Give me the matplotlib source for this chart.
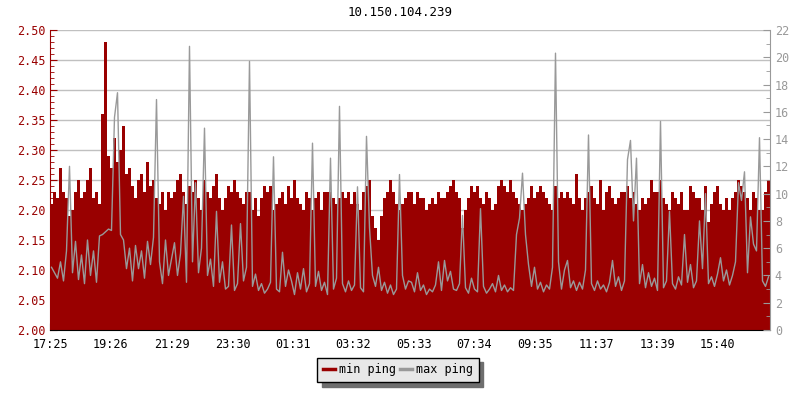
import numpy as np
import matplotlib.pyplot as plt
from matplotlib.ticker import MultipleLocator, FormatStrFormatter
from matplotlib.lines import Line2D

# one sample every 6 minutes, starting 17:25
step_min = 6

min_ping = [
    # 17:25 - 21:25
    2.21, 2.23, 2.22, 2.27, 2.23, 2.22, 2.19, 2.20, 2.23, 2.25,
    2.22, 2.23, 2.25, 2.27, 2.22, 2.23, 2.21, 2.36, 2.48, 2.29,
    2.27, 2.32, 2.28, 2.30, 2.34, 2.26, 2.27, 2.24, 2.22, 2.25,
    2.26, 2.23, 2.28, 2.24, 2.25, 2.22, 2.21, 2.23, 2.20, 2.23,
    # 21:25 - 01:25
    2.22, 2.23, 2.25, 2.26, 2.23, 2.21, 2.24, 2.23, 2.25, 2.22,
    2.20, 2.25, 2.23, 2.22, 2.24, 2.26, 2.22, 2.20, 2.22, 2.24,
    2.23, 2.25, 2.23, 2.22, 2.21, 2.23, 2.23, 2.20, 2.22, 2.19,
    2.22, 2.24, 2.23, 2.24, 2.20, 2.21, 2.22, 2.23, 2.21, 2.24,
    # 01:25 - 05:25
    2.22, 2.25, 2.22, 2.21, 2.20, 2.23, 2.22, 2.20, 2.22, 2.23,
    2.20, 2.23, 2.23, 2.23, 2.22, 2.21, 2.22, 2.23, 2.22, 2.23,
    2.21, 2.23, 2.21, 2.20, 2.23, 2.24, 2.25, 2.19, 2.17, 2.15,
    2.19, 2.22, 2.23, 2.25, 2.23, 2.21, 2.20, 2.21, 2.22, 2.23,
    # 05:25 - 09:25
    2.23, 2.21, 2.23, 2.22, 2.22, 2.20, 2.21, 2.22, 2.21, 2.23,
    2.22, 2.22, 2.23, 2.24, 2.25, 2.23, 2.22, 2.17, 2.20, 2.22,
    2.24, 2.23, 2.24, 2.22, 2.21, 2.23, 2.22, 2.20, 2.21, 2.24,
    2.25, 2.24, 2.23, 2.25, 2.23, 2.22, 2.21, 2.20, 2.21, 2.22,
    # 09:25 - 13:25
    2.24, 2.22, 2.23, 2.24, 2.23, 2.22, 2.21, 2.20, 2.24, 2.22,
    2.23, 2.22, 2.23, 2.22, 2.21, 2.26, 2.22, 2.20, 2.22, 2.23,
    2.24, 2.22, 2.21, 2.25, 2.20, 2.23, 2.24, 2.22, 2.21, 2.22,
    2.23, 2.23, 2.24, 2.22, 2.23, 2.21, 2.20, 2.22, 2.21, 2.22,
    # 13:25 - 17:25
    2.25, 2.23, 2.23, 2.25, 2.22, 2.21, 2.20, 2.23, 2.22, 2.21,
    2.23, 2.20, 2.20, 2.24, 2.23, 2.22, 2.22, 2.20, 2.24, 2.18,
    2.21, 2.23, 2.24, 2.21, 2.20, 2.22, 2.20, 2.22, 2.23, 2.25,
    2.24, 2.23, 2.22, 2.20, 2.23, 2.22, 2.20, 2.20, 2.23, 2.25,
]

max_ping = [
    # 17:25 - 21:25
    4.6, 4.2, 3.8, 5.0, 3.6, 5.8, 12.0, 4.2, 6.5, 3.7,
    5.5, 3.4, 6.6, 4.0, 5.8, 3.5, 6.9, 7.0, 7.2, 7.4,
    7.3, 15.6, 17.4, 7.0, 6.6, 4.5, 6.0, 3.6, 6.2, 4.5,
    5.8, 3.8, 6.5, 4.8, 6.8, 16.9, 5.0, 3.4, 6.6, 4.0,
    # 21:25 - 01:25
    5.2, 6.4, 4.0, 5.6, 9.8, 3.5, 20.8, 5.0, 10.8, 4.2,
    6.0, 14.8, 4.0, 5.2, 3.2, 8.7, 3.5, 5.0, 3.0, 3.2,
    7.7, 2.9, 3.4, 7.8, 3.6, 4.6, 19.7, 3.2, 4.1, 2.9,
    3.4, 2.7, 3.0, 3.5, 12.7, 3.0, 2.8, 5.7, 3.2, 4.4,
    # 01:25 - 05:25
    3.6, 2.6, 4.2, 3.0, 4.5, 2.8, 3.4, 13.7, 3.2, 4.3,
    2.9, 3.5, 2.6, 12.6, 3.0, 3.8, 16.4, 3.4, 2.8, 3.6,
    2.9, 3.3, 10.5, 3.1, 2.8, 14.2, 7.5, 4.0, 3.2, 4.6,
    2.9, 3.5, 2.7, 3.3, 2.6, 3.0, 11.4, 4.0, 3.0, 3.6,
    # 05:25 - 09:25
    3.5, 2.8, 4.2, 2.9, 3.3, 2.6, 3.0, 2.8, 3.3, 5.0,
    2.9, 5.1, 3.6, 4.3, 3.0, 2.9, 3.4, 8.4, 3.1, 2.7,
    3.8, 3.0, 2.8, 8.9, 3.2, 2.7, 3.0, 3.4, 2.8, 4.0,
    2.9, 3.3, 2.8, 3.1, 2.9, 7.0, 8.2, 11.5, 7.0, 4.8,
    # 09:25 - 13:25
    3.2, 4.6, 3.0, 3.5, 2.8, 3.3, 3.0, 4.6, 20.3, 5.0,
    3.0, 4.4, 5.1, 3.1, 3.6, 2.9, 3.5, 3.0, 4.4, 14.3,
    3.4, 2.9, 3.6, 3.0, 3.3, 2.8, 3.5, 5.1, 3.2, 3.9,
    2.9, 3.6, 12.5, 13.9, 8.0, 12.6, 3.4, 4.8, 3.1, 4.2,
    # 13:25 - 17:25
    3.2, 3.8, 2.9, 15.3, 3.1, 3.6, 8.7, 3.4, 3.0, 3.9,
    3.3, 7.0, 3.5, 4.8, 3.1, 3.6, 8.0, 4.5, 10.0, 3.4,
    3.9, 3.2, 4.1, 5.3, 3.6, 4.4, 3.3, 4.0, 5.0, 10.8,
    9.5, 11.6, 4.2, 8.3, 6.3, 5.8, 14.1, 3.6, 3.2, 3.9,
]

tick_minutes = [0, 121, 244, 365, 486, 607, 728, 849, 970, 1092, 1214, 1335]
tick_labels = ["17:25", "19:26", "21:29", "23:30", "01:31", "03:32",
               "05:33", "07:34", "09:35", "11:37", "13:39", "15:40"]

red = "#990000"
grey = "#999999"
plt.rcParams['font.family'] = ['DejaVu Sans Mono']

t = np.arange(len(min_ping)) * step_min
t_edge = np.append(t, t[-1] + step_min)
mins = np.append(min_ping, min_ping[-1])

fig = plt.figure(figsize=(8, 4), dpi=100)
ax = fig.add_axes([50/800, 70/400, 720/800, 300/400])
ax2 = ax.twinx()

ax.fill_between(t_edge, 2.0, mins, step='post', color=red, lw=0, label="min ping")
ax2.plot(t + step_min/2, max_ping, color=grey, lw=1, label="max ping")

ax.set_xlim(0, 1440)
ax.set_ylim(2.0, 2.5)
ax2.set_ylim(0, 22)

ax.yaxis.set_major_locator(MultipleLocator(0.05))
ax.yaxis.set_minor_locator(MultipleLocator(0.01))
ax.yaxis.set_major_formatter(FormatStrFormatter('%.2f'))
ax2.yaxis.set_major_locator(MultipleLocator(2))
ax2.yaxis.set_minor_locator(MultipleLocator(1))

ax.set_xticks(tick_minutes)
ax.set_xticklabels(tick_labels)

ax.set_axisbelow(True)
ax.grid(axis='y', color="#c0c0c0", lw=1)

for a in (ax, ax2):
    a.spines['top'].set_visible(False)
ax.spines['left'].set_color(red)
ax.spines['bottom'].set_color('black')
ax.spines['right'].set_visible(False)
ax2.spines['left'].set_visible(False)
ax2.spines['bottom'].set_visible(False)
ax2.spines['right'].set_color(grey)

ax.tick_params(axis='y', which='both', direction='in', colors=red, labelsize=8.5)
ax.tick_params(axis='y', which='major', length=5)
ax.tick_params(axis='y', which='minor', length=3)
ax.tick_params(axis='x', direction='in', length=5, pad=6, labelsize=8.5, colors='black')
ax2.tick_params(axis='y', which='both', direction='in', colors=grey, labelsize=8.5)
ax2.tick_params(axis='y', which='major', length=5)
ax2.tick_params(axis='y', which='minor', length=3)

fig.text(0.5, 0.968, "10.150.104.239", ha='center', va='center', fontsize=9)

# legend: short thick lines, grey box with a drop shadow
handles = [Line2D([], [], color=red, lw=2.5), Line2D([], [], color=grey, lw=2.5)]
leg = fig.legend(handles, ["min ping", "max ping"], loc='center', bbox_to_anchor=(0.4975, 0.075),
                 ncol=2, fontsize=8.5, handlelength=1.0, handletextpad=0.3,
                 columnspacing=0.4, borderpad=0.5, fancybox=False,
                 shadow={'facecolor': '#6e6e6e', 'edgecolor': '#6e6e6e', 'alpha': 1, 'ox': 3, 'oy': -3},
                 framealpha=1)
leg.get_frame().set_facecolor('#e8e8e8')
leg.get_frame().set_edgecolor('black')
leg.get_frame().set_linewidth(1)

fig.savefig("out.png", dpi=100)
